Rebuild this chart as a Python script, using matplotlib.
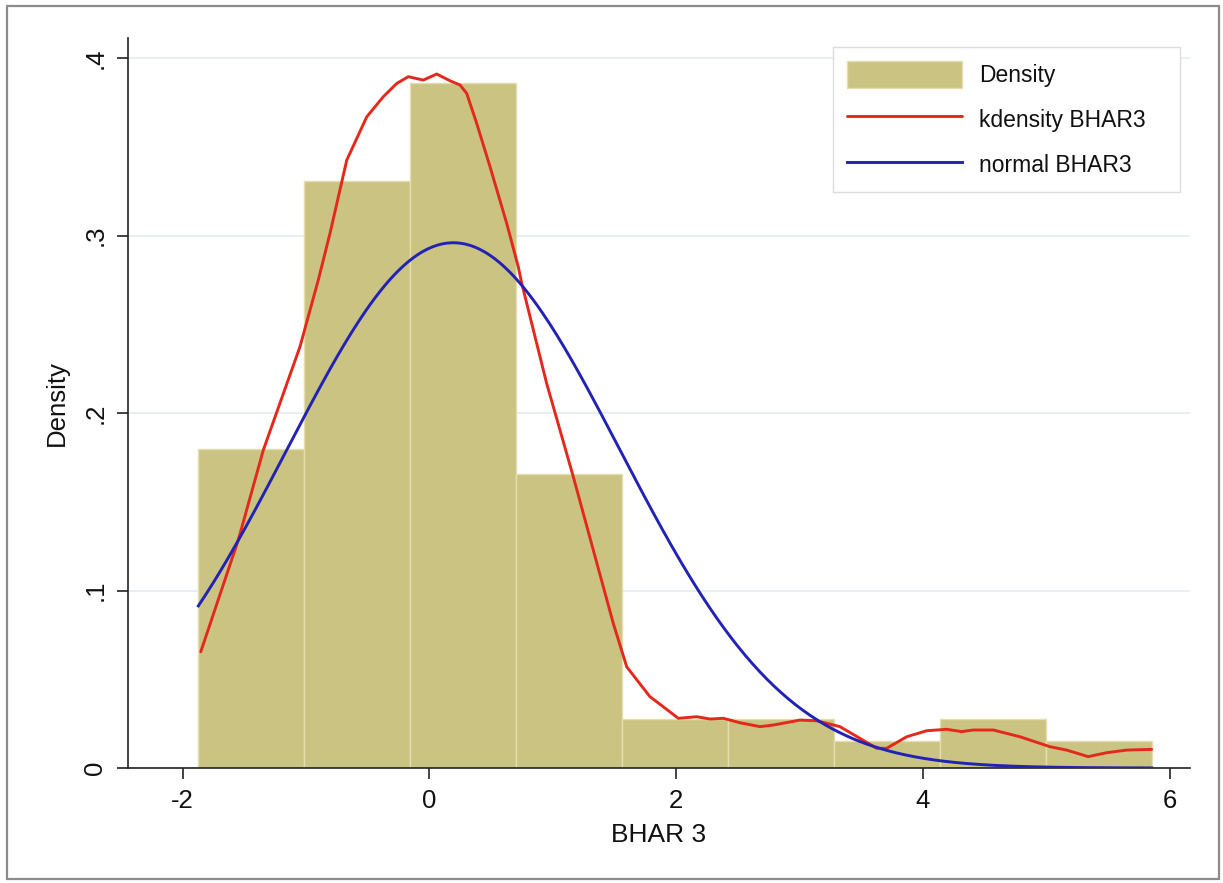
import numpy as np
import matplotlib
matplotlib.use("Agg")
import matplotlib.pyplot as plt
from matplotlib.patches import Rectangle

plt.rcParams['font.family'] = ['Liberation Sans', 'DejaVu Sans']

# ---- data ----
bin_edges = [-1.872, -1.014, -0.155, 0.703, 1.562, 2.420, 3.278, 4.137, 4.995, 5.854]
bin_density = [0.1795, 0.3307, 0.3857, 0.1656, 0.0276, 0.0276, 0.0152, 0.0276, 0.0150]

kd_x = [-1.852, -1.548, -1.345, -1.048, -0.900, -0.805, -0.669, -0.507, -0.373, -0.264,
        -0.170, -0.049, 0.060, 0.168, 0.249, 0.303, 0.384, 0.492, 0.627, 0.721,
        0.749, 0.951, 1.167, 1.329, 1.491, 1.600, 1.788, 1.896, 2.018, 2.167,
        2.275, 2.383, 2.518, 2.680, 2.788, 3.004, 3.139, 3.328, 3.490, 3.626,
        3.707, 3.869, 4.031, 4.193, 4.314, 4.408, 4.571, 4.787, 5.030, 5.165,
        5.340, 5.489, 5.651, 5.854]
kd_y = [0.0655, 0.1285, 0.1792, 0.2374, 0.2749, 0.3012, 0.3425, 0.3669, 0.3782, 0.3857,
        0.3895, 0.3876, 0.3910, 0.3872, 0.3848, 0.3801, 0.3632, 0.3388, 0.3069, 0.2824,
        0.2731, 0.2167, 0.1641, 0.1228, 0.0815, 0.0570, 0.0402, 0.0345, 0.0280, 0.0289,
        0.0276, 0.0280, 0.0255, 0.0233, 0.0242, 0.0270, 0.0266, 0.0233, 0.0167, 0.0111,
        0.0111, 0.0176, 0.0210, 0.0218, 0.0205, 0.0214, 0.0214, 0.0176, 0.0120, 0.0101,
        0.0064, 0.0086, 0.0101, 0.0105]

normal_mean = 0.195
normal_sd = 1.348

x_ticks = [-2, 0, 2, 4, 6]
x_ticklabels = ["-2", "0", "2", "4", "6"]
y_ticks = [0, 0.1, 0.2, 0.3, 0.4]
y_ticklabels = ["0", ".1", ".2", ".3", ".4"]
legend_labels = ["Density", "kdensity BHAR3", "normal BHAR3"]
x_label = "BHAR 3"
y_label = "Density"

# ---- figure ----
W, H = 1223, 883
fig = plt.figure(figsize=(W / 100, H / 100), dpi=100)
fig.patch.set_facecolor('white')
fig.patches.append(Rectangle((7 / W, 1 - 879 / H), (1219 - 7) / W, (879 - 6) / H,
                             transform=fig.transFigure, fill=False,
                             edgecolor='#8c8c8c', linewidth=1.6, zorder=0))

ax = fig.add_axes([128 / W, 1 - 768 / H, (1190 - 128) / W, (768 - 38) / H])
ax.set_facecolor('white')

edges = np.array(bin_edges)
bars = ax.bar(edges[:-1], bin_density, width=np.diff(edges), align='edge',
              color='#cac382', edgecolor='#e4deae', linewidth=1.0, zorder=2,
              label=legend_labels[0])

kd_line, = ax.plot(kd_x, kd_y, color='#e3291c', linewidth=2.1, zorder=3,
                   label=legend_labels[1], solid_joinstyle='round',
                   solid_capstyle='round')

nx = np.linspace(bin_edges[0], bin_edges[-1], 400)
ny = np.exp(-0.5 * ((nx - normal_mean) / normal_sd) ** 2) / (normal_sd * np.sqrt(2 * np.pi))
nm_line, = ax.plot(nx, ny, color='#2222b4', linewidth=2.1, zorder=4,
                   label=legend_labels[2])

ax.set_xlim(-2.442, 6.165)
ax.set_ylim(0, 0.4113)

for s in ['top', 'right']:
    ax.spines[s].set_visible(False)
for s in ['left', 'bottom']:
    ax.spines[s].set_color('#222222')
    ax.spines[s].set_linewidth(1.2)

ax.set_xticks(x_ticks)
ax.set_xticklabels(x_ticklabels)
ax.set_yticks(y_ticks)
ax.set_yticklabels(y_ticklabels, rotation=90, va='center')
ax.tick_params(axis='both', direction='out', length=8, width=1.2,
               color='#222222', labelsize=18.5, pad=7, labelcolor='#111111')

ax.yaxis.grid(True, color='#e6eef0', linewidth=1.3, zorder=0)
ax.set_axisbelow(True)

ax.set_xlabel(x_label, fontsize=19, labelpad=7, color='#111111')
ax.set_ylabel(y_label, fontsize=18.5, labelpad=10, color='#111111')

leg = ax.legend([bars, kd_line, nm_line], legend_labels,
                loc='upper left', bbox_to_anchor=(0.664, 0.5, 0.3266, 0.4877),
                mode='expand',
                fontsize=16.5, frameon=True, fancybox=False, framealpha=1,
                edgecolor='#dddddd', handlelength=5.0, handleheight=1.45,
                handletextpad=0.75, labelspacing=0.78, borderpad=0.6,
                borderaxespad=0)
leg.get_frame().set_linewidth(1.0)
for t in leg.get_texts():
    t.set_color('#111111')

fig.savefig('out.png', dpi=100, facecolor='white')
